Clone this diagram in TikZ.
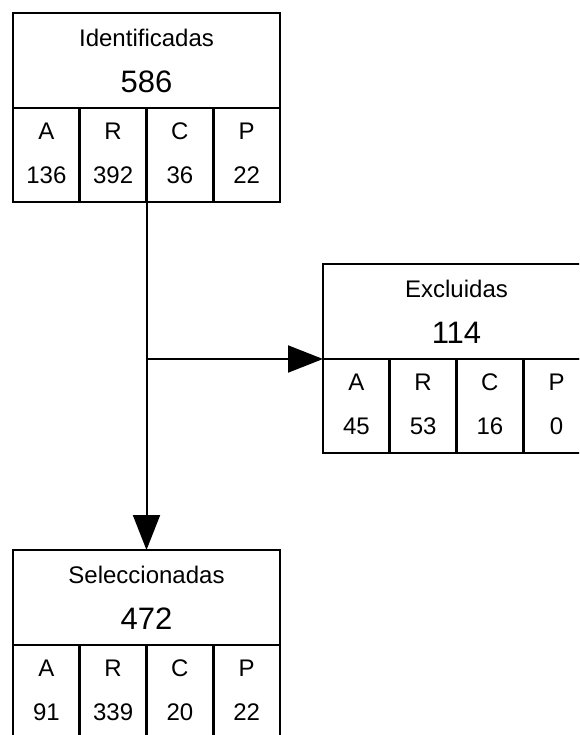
\documentclass[tikz,border=0pt]{standalone}
\usepackage{fontspec}
\setmainfont{Liberation Sans}
\usetikzlibrary{arrows.meta,positioning}
\newcommand\bignum[1]{{\fontsize{31}{44}\selectfont #1}}
\begin{document}
\begin{tikzpicture}[
  x=1pt,y=-1pt,
  >={Triangle[length=35pt,width=27pt]},
  every node/.style={font=\fontsize{24}{44}\selectfont,inner sep=0pt,outer sep=0pt},
  head/.style={draw,line width=2.7pt,minimum width=267pt,minimum height=95pt,align=center,
    execute at begin node=\rule{0pt}{22.6pt}},
  cell/.style={draw,line width=2.7pt,minimum width=66.75pt,minimum height=94pt,align=center,
    execute at end node=\rule[-3pt]{0pt}{3pt}},
  flow/.style={->,line width=2pt}
]
\useasboundingbox (0,0) rectangle (579,735);
\clip (0,0) rectangle (579,735);
% --- Nodes ---
% Identificadas
\node[head] (idh) at (146.5,60.5) {Identificadas\\[2pt]\bignum{586}};
\node[cell,below right=0pt and 0pt of idh.south west] (ida) {A\\136};
\node[cell,right=0pt of ida] (idr) {R\\392};
\node[cell,right=0pt of idr] (idc) {C\\36};
\node[cell,right=0pt of idc] (idp) {P\\22};

% Excluidas
\node[head] (exh) at (456.5,311.5) {Excluidas\\[2pt]\bignum{114}};
\node[cell,below right=0pt and 0pt of exh.south west] (exa) {A\\45};
\node[cell,right=0pt of exa] (exr) {R\\53};
\node[cell,right=0pt of exr] (exc) {C\\16};
\node[cell,right=0pt of exc] (exp) {P\\0};

% Seleccionadas
\node[head] (seh) at (146.5,597.5) {Seleccionadas\\[2pt]\bignum{472}};
\node[cell,below right=0pt and 0pt of seh.south west] (sea) {A\\91};
\node[cell,right=0pt of sea] (ser) {R\\339};
\node[cell,right=0pt of ser] (sec) {C\\20};
\node[cell,right=0pt of sec] (sep) {P\\22};

% --- Arrows ---
% Identificadas -> Seleccionadas
\draw[flow] (idr.south east) -- (seh.north);
% branch -> Excluidas
\draw[flow] (idr.south east |- exh.south west) -- (exh.south west);

\end{tikzpicture}
\end{document}
